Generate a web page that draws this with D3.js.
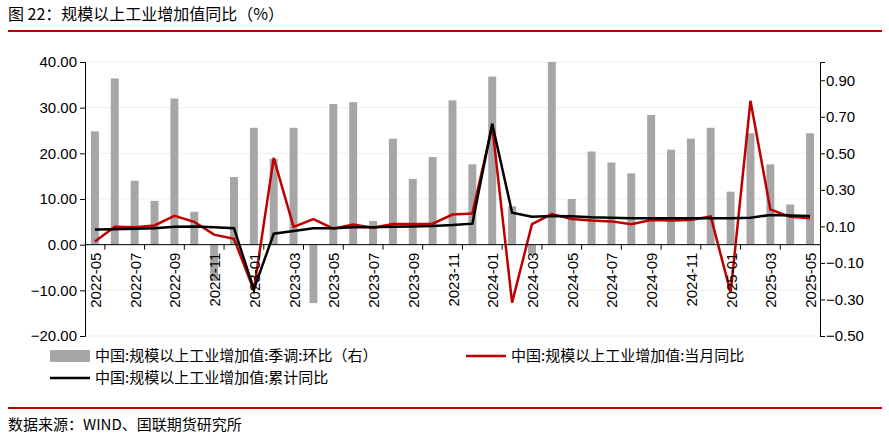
<!DOCTYPE html>
<html><head><meta charset="utf-8">
<script src="https://cdn.jsdelivr.net/npm/d3@7"></script>
<style>body{margin:0;background:#fff;font-family:"Noto Sans CJK SC","Liberation Sans",sans-serif}</style>
</head><body><div id="chart"></div>
<script>
// months 2022-05 .. 2025-05
var months = [];
for (var y = 2022, m = 5; y < 2025 || (y == 2025 && m <= 5); m++) {
  if (m > 12) { m = 1; y++; }
  months.push(y + "-" + (m < 10 ? "0" + m : m));
}
// 季调环比 (右轴)
var momValues = [0.62,0.91,0.35,0.24,0.80,0.18,-0.20,0.37,0.64,0.47,0.64,-0.32,0.77,0.78,0.13,0.58,0.36,0.48,0.79,0.44,
  0.92,0.21,-0.05,1.00,0.25,0.51,0.45,0.39,0.71,0.52,0.58,0.64,0.29,0.61,0.44,0.22,0.61];
// 当月同比
var yoyValues = [0.7,3.9,3.8,4.2,6.3,5.0,2.2,1.3,-10.0,19.0,3.9,5.6,3.5,4.4,3.7,4.5,4.5,4.6,6.6,6.8,
  26.0,-12.7,4.5,6.7,5.6,5.3,5.1,4.5,5.4,5.3,5.4,6.2,-10.5,31.5,7.7,6.1,5.8];
// 累计同比
var cumValues = [3.3,3.4,3.5,3.6,3.9,4.0,3.8,3.6,-9.8,2.4,3.0,3.6,3.6,3.8,3.8,3.9,4.0,4.1,4.3,4.6,
  26.5,7.0,6.1,6.3,6.2,6.0,5.9,5.8,5.8,5.8,5.8,5.8,5.8,5.9,6.5,6.4,6.3];
var leftTicks = [-20,-10,0,10,20,30,40];
var rightTicks = [-0.5,-0.3,-0.1,0.1,0.3,0.5,0.7,0.9];

var W = 889, H = 440, L = 85, R = 820, T = 62, B = 336;
var svg = d3.select("#chart").append("svg").attr("width", W).attr("height", H);

svg.append("text").attr("x", 8).attr("y", 20).attr("font-size", 16).attr("fill", "#000")
  .text("图 22：规模以上工业增加值同比（%）");
svg.append("line").attr("x1", 8).attr("x2", 882).attr("y1", 31).attr("y2", 31).attr("stroke", "#c00000").attr("stroke-width", 2);
svg.append("line").attr("x1", 8).attr("x2", 882).attr("y1", 408).attr("y2", 408).attr("stroke", "#c00000").attr("stroke-width", 2);
svg.append("text").attr("x", 8).attr("y", 430).attr("font-size", 15).text("数据来源：WIND、国联期货研究所");

var x = d3.scaleBand().domain(months).range([L, R]).paddingInner(0.6).paddingOuter(0.3);
var yL = d3.scaleLinear().domain([-20, 40]).range([B, T]);
var yR = d3.scaleLinear().domain([-0.5, 1.0]).range([B, T]);

// grid
svg.append("g").selectAll("line").data(leftTicks).enter().append("line")
  .attr("x1", L).attr("x2", R).attr("y1", d => yL(d)).attr("y2", d => yL(d))
  .attr("stroke", "#eeeeee");

svg.append("g").selectAll("rect").data(momValues).enter().append("rect")
  .attr("x", (d, i) => x(months[i])).attr("width", x.bandwidth())
  .attr("y", d => yR(Math.max(0, d))).attr("height", d => Math.abs(yR(d) - yR(0)))
  .attr("fill", "#a6a6a6");

var cx = (d, i) => x(months[i]) + x.bandwidth() / 2;
svg.append("path").datum(yoyValues).attr("fill", "none").attr("stroke", "#c00000").attr("stroke-width", 2.5)
  .attr("d", d3.line().x(cx).y(d => yL(d)));
svg.append("path").datum(cumValues).attr("fill", "none").attr("stroke", "#000").attr("stroke-width", 2.5)
  .attr("d", d3.line().x(cx).y(d => yL(d)));

// axes
var la = svg.append("g").attr("transform", `translate(${L},0)`)
  .call(d3.axisLeft(yL).tickValues(leftTicks).tickFormat(d3.format(".2f")).tickSize(5));
var ra = svg.append("g").attr("transform", `translate(${R},0)`)
  .call(d3.axisRight(yR).tickValues(rightTicks).tickFormat(d3.format(".2f")).tickSize(5));
[la, ra].forEach(function (a) {
  a.select(".domain").attr("stroke", "#000");
  a.selectAll("text").attr("font-size", 15).attr("font-family", "Liberation Sans, Arial");
});
ra.selectAll("text").attr("x", 6);

// x axis on zero line
var xa = svg.append("g").attr("transform", `translate(0,${yL(0)})`);
xa.append("line").attr("x1", L).attr("x2", R).attr("stroke", "#000");
var labelMonths = months.filter((d, i) => i % 2 == 0);
xa.selectAll(".tk").data(labelMonths.slice(0, -1)).enter().append("line")
  .attr("x1", d => x(d) + x.step() * 1.5 + x.bandwidth() / 2 - x.step())
  .attr("x2", d => x(d) + x.step() * 1.5 + x.bandwidth() / 2 - x.step())
  .attr("y1", 0).attr("y2", 5).attr("stroke", "#000");
xa.selectAll("text").data(labelMonths).enter().append("text")
  .attr("transform", d => `translate(${x(d) + x.bandwidth() / 2 + 6},8) rotate(-90)`)
  .attr("text-anchor", "end").attr("font-size", 15).attr("font-family", "Liberation Sans, Arial")
  .text(d => d);

// legend
var lg = svg.append("g").attr("font-size", 15);
lg.append("rect").attr("x", 50).attr("y", 350).attr("width", 40).attr("height", 12).attr("fill", "#a6a6a6");
lg.append("text").attr("x", 95).attr("y", 361).text("中国:规模以上工业增加值:季调:环比（右）");
lg.append("line").attr("x1", 466).attr("x2", 506).attr("y1", 356).attr("y2", 356).attr("stroke", "#c00000").attr("stroke-width", 2.5);
lg.append("text").attr("x", 511).attr("y", 361).text("中国:规模以上工业增加值:当月同比");
lg.append("line").attr("x1", 50).attr("x2", 90).attr("y1", 378).attr("y2", 378).attr("stroke", "#000").attr("stroke-width", 2.5);
lg.append("text").attr("x", 95).attr("y", 383).text("中国:规模以上工业增加值:累计同比");
</script></body></html>
